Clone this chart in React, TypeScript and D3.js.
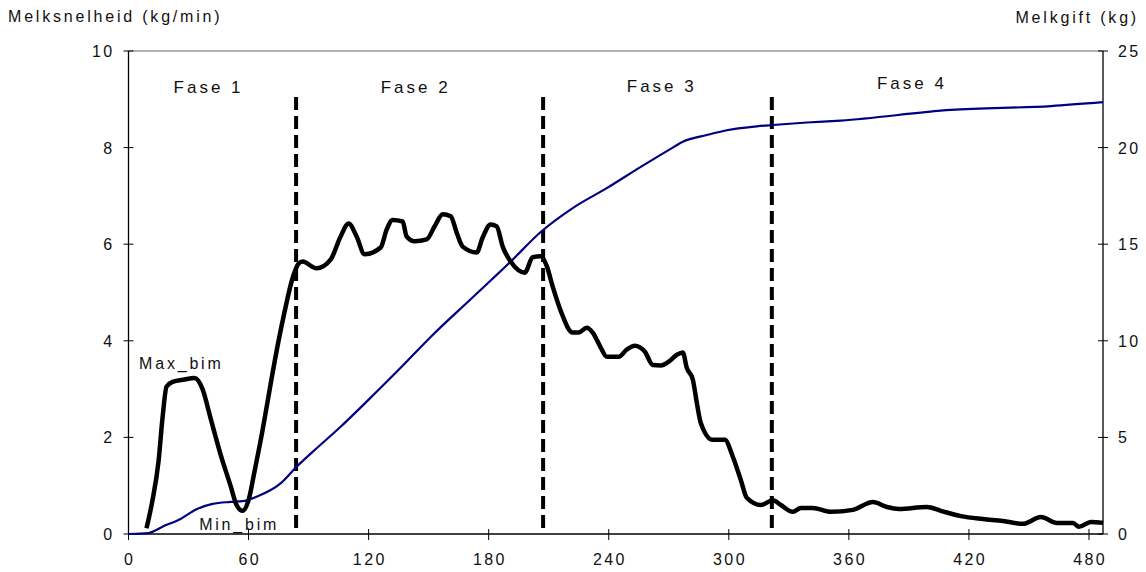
import React from "react";
import * as d3 from "d3";

const flowT = [9, 12, 15, 17, 19, 22, 28, 33, 37, 41, 46, 51, 54, 57, 60, 63, 67, 71, 75, 78, 82, 85, 87, 94, 101, 106, 110, 114, 118, 126, 129, 132, 137, 139, 143, 149, 153, 157, 161, 164, 167, 174, 177, 181, 184, 187, 191, 198, 202, 206, 209, 212, 216, 222, 225, 229, 232, 236, 239, 245, 249, 253, 258, 262, 266, 270, 274, 277, 279, 282, 284, 286, 292, 298, 302, 306, 309, 316, 322, 326, 332, 336, 342, 351, 362, 372, 379, 385, 399, 406, 416, 427, 437, 447, 456, 464, 472, 475, 481, 487];
const flowV = [0.12, 0.7, 1.5, 2.4, 3.05, 3.15, 3.2, 3.23, 3.0, 2.4, 1.65, 1.0, 0.6, 0.48, 0.7, 1.3, 2.15, 3.1, 4.0, 4.6, 5.3, 5.6, 5.64, 5.5, 5.68, 6.16, 6.43, 6.16, 5.79, 5.93, 6.3, 6.5, 6.47, 6.16, 6.06, 6.1, 6.37, 6.62, 6.58, 6.24, 5.95, 5.83, 6.14, 6.41, 6.37, 5.95, 5.64, 5.41, 5.73, 5.75, 5.55, 5.12, 4.62, 4.17, 4.17, 4.27, 4.17, 3.86, 3.67, 3.67, 3.82, 3.9, 3.78, 3.5, 3.49, 3.57, 3.71, 3.76, 3.44, 3.2, 2.72, 2.3, 1.95, 1.95, 1.6, 1.12, 0.75, 0.6, 0.7, 0.6, 0.46, 0.54, 0.54, 0.46, 0.5, 0.66, 0.56, 0.52, 0.56, 0.48, 0.37, 0.31, 0.27, 0.21, 0.35, 0.23, 0.23, 0.15, 0.25, 0.23];

const yieldT = [0, 10, 17, 26, 34, 42, 51, 57, 64, 76, 84, 92, 106, 119, 136, 151, 171, 191, 206, 222, 239, 256, 272, 277, 289, 299, 314, 322, 339, 356, 411, 461, 487];
const yieldV = [0, 0.05, 0.38, 0.78, 1.28, 1.56, 1.66, 1.7, 1.93, 2.62, 3.48, 4.25, 5.55, 6.85, 8.6, 10.2, 12.15, 14.1, 15.63, 16.87, 17.9, 19.0, 20.0, 20.3, 20.65, 20.9, 21.1, 21.17, 21.3, 21.4, 21.95, 22.15, 22.35];

const xTicks = [0, 60, 120, 180, 240, 300, 360, 420, 480];
const yLeftTicks = [0, 2, 4, 6, 8, 10];
const yRightTicks = [0, 5, 10, 15, 20, 25];
const phaseBounds = [83.75, 207.2, 321.5];
const phaseLabels = ["Fase 1", "Fase 2", "Fase 3", "Fase 4"];
const phaseLabelT = [40, 143.5, 266.5, 391.5];
const annotations = [
  { label: "Max_bim", t: 5.3, v: 3.42 },
  { label: "Min_bim", t: 35.3, v: 0.08 },
];

const left = 128.5, right = 1103, top = 51, bottom = 534;
const font = "'Liberation Sans', Arial, sans-serif";

export default function App() {
  const x = d3.scaleLinear().domain([0, 487]).range([left, right]);
  const yL = d3.scaleLinear().domain([0, 10]).range([bottom, top]);
  const yR = d3.scaleLinear().domain([0, 25]).range([bottom, top]);
  const flowLine = d3.line<number>().x((_, i) => x(flowT[i])).y((d) => yL(d)).curve(d3.curveMonotoneX);
  const yieldLine = d3.line<number>().x((_, i) => x(yieldT[i])).y((d) => yR(d)).curve(d3.curveMonotoneX);
  const ts = { fontFamily: font, fontSize: 16, letterSpacing: 2.8, fill: "#111" } as const;
  const tk = { fontFamily: font, fontSize: 16, letterSpacing: 2.4, fill: "#111" } as const;
  const phaseY = [93, 93, 92, 89];
  return (
    <svg width={1146} height={572} style={{ position: "absolute", left: 0, top: 0, background: "#fff" }}>
      <line x1={left} x2={right} y1={top} y2={top} stroke="#999" strokeWidth={1.5} />
      <line x1={left} x2={left} y1={top} y2={bottom} stroke="#000" strokeWidth={1.3} />
      <line x1={right} x2={right} y1={top} y2={bottom} stroke="#000" strokeWidth={1.3} />
      <line x1={left} x2={right} y1={bottom} y2={bottom} stroke="#000" strokeWidth={1.3} />
      {xTicks.map((t) => (
        <g key={"x" + t}>
          <line x1={x(t)} x2={x(t)} y1={bottom - 5} y2={bottom + 6} stroke="#000" strokeWidth={1} />
          <text x={x(t) + 1.2} y={565} textAnchor="middle" {...tk}>{t}</text>
        </g>
      ))}
      {yLeftTicks.map((v) => (
        <g key={"yl" + v}>
          <line x1={left - 5} x2={left + 5} y1={yL(v)} y2={yL(v)} stroke="#000" strokeWidth={1} />
          <text x={114.5} y={yL(v) + 6} textAnchor="end" {...tk}>{v}</text>
        </g>
      ))}
      {yRightTicks.map((v) => (
        <g key={"yr" + v}>
          <line x1={right - 5} x2={right + 5} y1={yR(v)} y2={yR(v)} stroke="#000" strokeWidth={1} />
          <text x={1118} y={yR(v) + 6} textAnchor="start" {...tk}>{v}</text>
        </g>
      ))}
      <text x={8} y={22} {...ts}>Melksnelheid (kg/min)</text>
      <text x={1139} y={23} textAnchor="end" {...ts}>Melkgift (kg)</text>
      {phaseBounds.map((t) => (
        <line key={"p" + t} x1={x(t)} x2={x(t)} y1={97} y2={bottom} stroke="#000" strokeWidth={4} strokeDasharray="13,6" />
      ))}
      {phaseLabels.map((l, i) => (
        <text key={l} x={x(phaseLabelT[i])} y={phaseY[i]} textAnchor="middle" {...ts} fontSize={17} letterSpacing={3}>{l}</text>
      ))}
      <path d={yieldLine(yieldV) || ""} fill="none" stroke="#000080" strokeWidth={2.2} />
      <path d={flowLine(flowV) || ""} fill="none" stroke="#000" strokeWidth={4.5} strokeLinejoin="round" />
      {annotations.map((a) => (
        <text key={a.label} x={x(a.t)} y={yL(a.v)} {...ts}>{a.label}</text>
      ))}
    </svg>
  );
}
